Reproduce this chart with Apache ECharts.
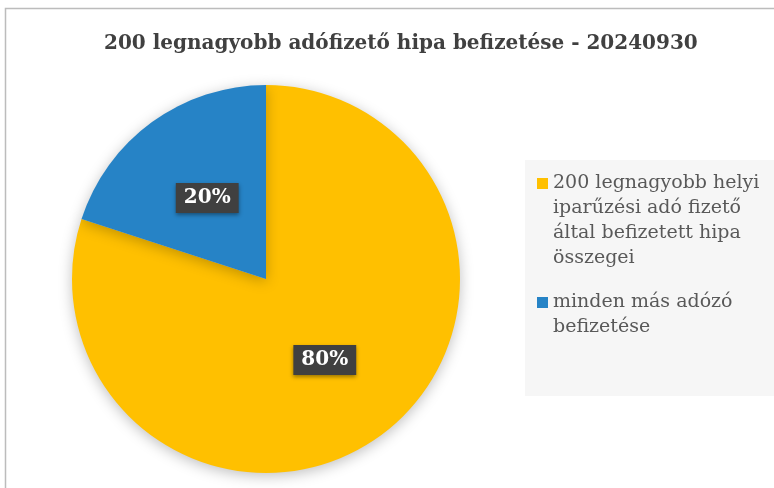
<!DOCTYPE html>
<html>
<head>
<meta charset="utf-8">
<script src="https://cdn.jsdelivr.net/npm/echarts@6/dist/echarts.min.js"></script>
<style>
  html, body { margin: 0; padding: 0; background: #fff; }
  #main { width: 774px; height: 488px; }
</style>
</head>
<body>
<div id="main"></div>
<script>
const chartDom = document.getElementById('main');
const myChart = echarts.init(chartDom);

// data
const names = [
    '200 legnagyobb helyi iparűzési adó fizető által befizetett hipa összegei',
    'minden más adózó befizetése'
];
const values = [80, 20];
const colors = ['#FFC000', '#2683C6'];
const titleText = '200 legnagyobb adófizető hipa befizetése - 20240930';

const lineH = 25;
// wrapped legend lines
const legendLines = [
    ['200 legnagyobb helyi', 'iparűzési adó fizető', 'által befizetett hipa', 'összegei'],
    ['minden más adózó', 'befizetése']
];
const legendTops = [96, 265];

const serif = '"DejaVu Serif", "Liberation Serif", serif';

const option = {
    backgroundColor: '#fff',
    title: {
        text: titleText,
        left: 99,
        top: 29,
        textStyle: {
            fontFamily: serif,
            fontWeight: 'bold',
            fontSize: 20,
            color: '#404040'
        }
    },
    graphic: [
        {
            type: 'rect',
            shape: { x: 5.5, y: 8.5, width: 900, height: 600 },
            style: { fill: 'none', stroke: '#bcbcbc', lineWidth: 1.5 },
            silent: true
        },
        {
            type: 'rect',
            shape: { x: 525, y: 160, width: 249, height: 236 },
            style: { fill: '#f6f6f6' },
            silent: true,
            z: -1
        }
    ],
    legend: names.map(function (name, idx) {
        const n = legendLines[idx].length;
        // blank lines above keep the first line level with the icon
        const pad = new Array(n).join('\u00a0\n');
        return {
            data: [name],
            left: 537,
            top: legendTops[idx],
            padding: 0,
            icon: 'rect',
            itemWidth: 11,
            itemHeight: 11,
            itemGap: 0,
            selectedMode: false,
            formatter: function () {
                return pad + legendLines[idx].join('\n');
            },
            textStyle: {
                fontFamily: serif,
                fontSize: 19,
                color: '#595959',
                lineHeight: lineH
            }
        };
    }),
    series: [
        {
            type: 'pie',
            center: [266, 279],
            radius: 194,
            startAngle: 90,
            clockwise: true,
            animation: false,
            itemStyle: {
                shadowBlur: 14,
                shadowColor: 'rgba(0,0,0,0.25)',
                shadowOffsetY: 3
            },
            label: {
                position: 'inside',
                formatter: '{d}%',
                fontFamily: serif,
                fontWeight: 'bold',
                fontSize: 20,
                color: '#fff',
                backgroundColor: '#404040',
                padding: [6, 8, 4, 8],
                shadowBlur: 4,
                shadowColor: 'rgba(0,0,0,0.4)',
                shadowOffsetY: 2
            },
            labelLine: { show: false },
            emphasis: { disabled: true },
            data: names.map(function (name, i) {
                return { name: name, value: values[i], itemStyle: { color: colors[i] } };
            })
        }
    ]
};

myChart.setOption(option);
</script>
</body>
</html>
